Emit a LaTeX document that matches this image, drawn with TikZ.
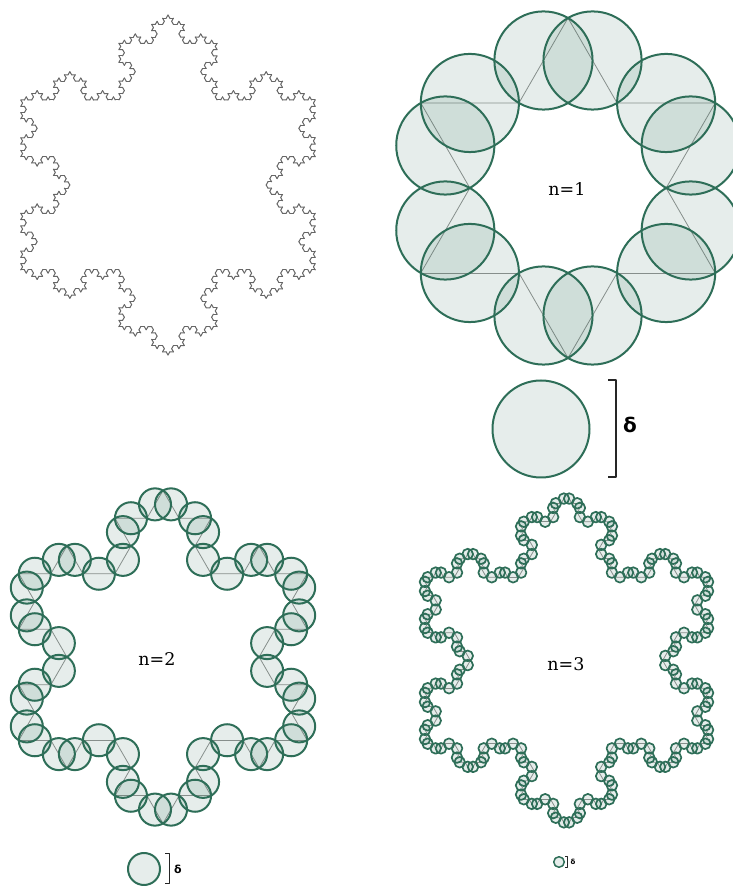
\documentclass[tikz,border=0pt]{standalone}
\usepackage{fontspec}
\setmainfont{DejaVu Serif}
\newfontfamily\deltafont{DejaVu Sans}
\usepackage{xcolor}

\definecolor{discgreen}{RGB}{46,110,88}

% one side of a Koch curve: x1 y1 x2 y2 level
\newcommand\kochleaf[4]{}
\newcommand\kochside[5]{%
  \ifnum#5=0
    \kochleaf{#1}{#2}{#3}{#4}%
  \else
    \pgfmathsetmacro\kdx{((#3)-(#1))/3}%
    \pgfmathsetmacro\kdy{((#4)-(#2))/3}%
    \pgfmathsetmacro\kax{(#1)+(\kdx)}%
    \pgfmathsetmacro\kay{(#2)+(\kdy)}%
    \pgfmathsetmacro\kbx{(\kax)+0.5*(\kdx)+0.866025*(\kdy)}%
    \pgfmathsetmacro\kby{(\kay)-0.866025*(\kdx)+0.5*(\kdy)}%
    \pgfmathsetmacro\kcx{(#1)+2*(\kdx)}%
    \pgfmathsetmacro\kcy{(#2)+2*(\kdy)}%
    \pgfmathtruncatemacro\klev{#5-1}%
    \edef\knext{%
      \noexpand\kochside{#1}{#2}{\kax}{\kay}{\klev}%
      \noexpand\kochside{\kax}{\kay}{\kbx}{\kby}{\klev}%
      \noexpand\kochside{\kbx}{\kby}{\kcx}{\kcy}{\klev}%
      \noexpand\kochside{\kcx}{\kcy}{#3}{#4}{\klev}}%
    \knext
  \fi}
% whole snowflake: radius level
\newcommand\kochflake[2]{%
  \pgfmathsetmacro\kochrad{#1*sqrt(3)/(2*3^#2)}%
  \pgfmathsetmacro\kh{0.866025*#1}%
  \pgfmathsetmacro\kv{0.5*#1}%
  \edef\knext{%
    \noexpand\kochside{0}{#1}{-\kh}{-\kv}{#2}%
    \noexpand\kochside{-\kh}{-\kv}{\kh}{-\kv}{#2}%
    \noexpand\kochside{\kh}{-\kv}{0}{#1}{#2}}%
  \knext}
\newcommand\kochlineleaf[4]{\draw[kochline] (#1,#2) -- (#3,#4);}
\newcommand\kochdiscleaf[4]{\path[disc] ({((#1)+(#3))/2},{((#2)+(#4))/2}) circle[radius=\kochrad];}
\newcommand\kochcover[2]{%
  \let\kochleaf\kochlineleaf\kochflake{#1}{#2}%
  \let\kochleaf\kochdiscleaf\kochflake{#1}{#2}}

\begin{document}
\begin{tikzpicture}[x=1pt,y=1pt,line cap=round,line join=round,
  kochline/.style={gray!85,line width=0.8pt},
  snowline/.style={black!60,line width=1pt},
  disc/.style={draw=discgreen,fill=discgreen,fill opacity=0.12,line width=2pt},
  bracket/.style={black!85,line width=1.3pt,line cap=butt},
  flabel/.style={font=\fontsize{17.5}{21}\selectfont}]
\useasboundingbox (0,0) rectangle (733,886);

\begin{scope}[shift={(168,701)}]
\let\kochleaf\kochlineleaf
\tikzset{kochline/.style={snowline}}
\kochflake{170}{4}
\end{scope}

\begin{scope}[shift={(568,698)}]
\kochcover{170}{1}
\end{scope}
\node[flabel] (lab1) at (567,697) {n=1};

\path[disc] (541,457) circle[radius=48.5];
\draw[bracket] (608,506) -- (616,506) -- (616,409) -- (608,409);
\node[font=\deltafont\bfseries\fontsize{20}{24}\selectfont] (del1) at (630,461) {δ};

\begin{scope}[shift={(163,229)}]
\kochcover{166.5}{2}
\end{scope}
\node[flabel] (lab2) at (157,227) {n=2};

\path[disc] (144,17) circle[radius=16];
\draw[bracket,line width=1pt] (165,32) -- (169,32) -- (169,2) -- (165,2);
\node[font=\deltafont\bfseries\fontsize{11}{13}\selectfont] (del2) at (178,17) {δ};

\begin{scope}[shift={(566.5,225.5)}]
\tikzset{disc/.append style={line width=1.7pt}}
\kochcover{166.5}{3}
\end{scope}
\node[flabel] (lab3) at (566,222) {n=3};

\path[disc,line width=1.5pt] (559,24) circle[radius=5.3];
\draw[bracket,line width=0.8pt] (565,29.3) -- (567,29.3) -- (567,18.7) -- (565,18.7);
\node[font=\deltafont\bfseries\fontsize{7}{8}\selectfont] (del3) at (573,24) {δ};
\end{tikzpicture}
\end{document}
